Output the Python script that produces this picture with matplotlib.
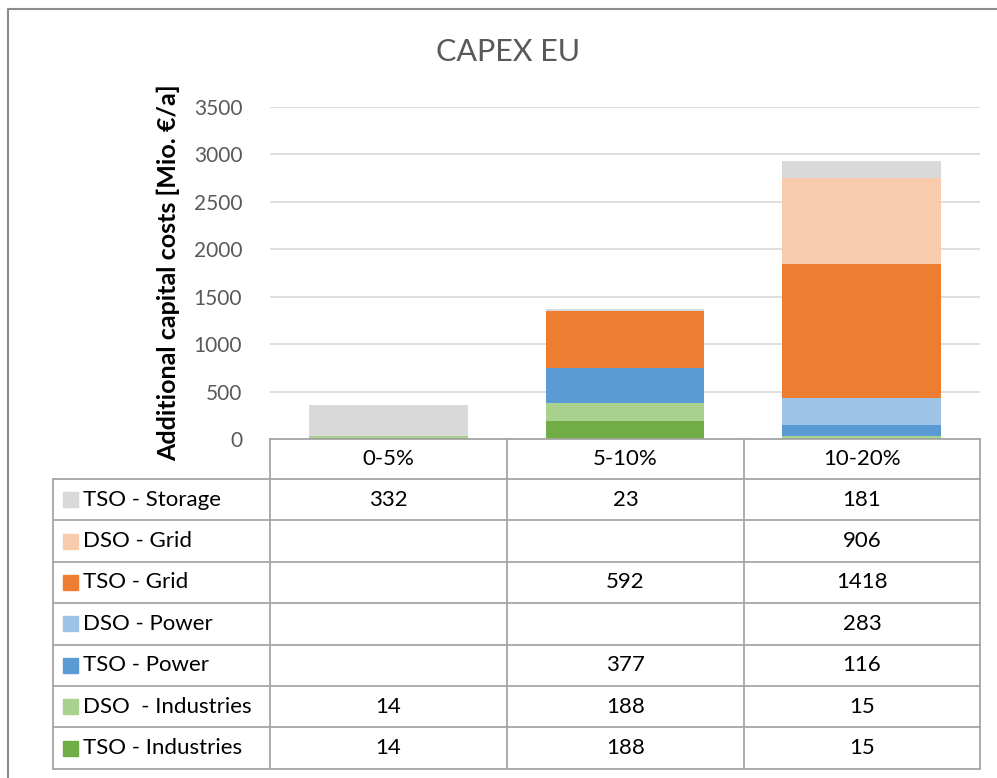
import numpy as np
import matplotlib
matplotlib.use('Agg')
import matplotlib.pyplot as plt
from matplotlib.lines import Line2D
from matplotlib.patches import Rectangle

plt.rcParams['font.family'] = ['Lato', 'DejaVu Sans']

# data
categories = ['0-5%', '5-10%', '10-20%']
series = ['TSO - Industries', 'DSO  - Industries', 'TSO - Power', 'DSO - Power',
          'TSO - Grid', 'DSO - Grid', 'TSO - Storage']
tso_industries = [14, 188, 15]
dso_industries = [14, 188, 15]
tso_power = [None, 377, 116]
dso_power = [None, None, 283]
tso_grid = [None, 592, 1418]
dso_grid = [None, None, 906]
tso_storage = [332, 23, 181]
values = [tso_industries, dso_industries, tso_power, dso_power,
          tso_grid, dso_grid, tso_storage]
colors = ['#70AD47', '#A9D18E', '#5B9BD5', '#9DC3E6',
          '#ED7D31', '#F8CBAD', '#D9D9D9']
yticks = [0, 500, 1000, 1500, 2000, 2500, 3000, 3500]

W, H = 997, 778
fig = plt.figure(figsize=(W / 100, H / 100), dpi=100)

def fx(x):
    return x / W

def fy(y):
    return 1 - y / H

# plot area (pixel layout)
x0, x1 = 270, 980
ytop, ybot = 107, 439
ax = fig.add_axes([fx(x0), fy(ybot), fx(x1) - fx(x0), fy(ytop) - fy(ybot)])

xpos = np.arange(len(categories))
bottom = np.zeros(len(categories))
for vals, c in zip(values, colors):
    v = np.array([np.nan if a is None else a for a in vals], dtype=float)
    ax.bar(xpos, np.nan_to_num(v), width=0.67, bottom=bottom, color=c, zorder=3)
    bottom += np.nan_to_num(v)

ax.set_xlim(-0.5, len(categories) - 0.5)
ax.set_ylim(0, 3500)
ax.set_yticks(yticks)
ax.set_xticks([])
ax.tick_params(axis='y', length=0, labelsize=15, labelcolor='#595959', pad=20)
ax.grid(axis='y', color='#D9D9D9', linewidth=1.2, zorder=0)
for s in ax.spines.values():
    s.set_visible(False)
ax.set_ylabel('Additional capital costs [Mio. €/a]', fontsize=18,
              fontweight='bold', labelpad=10)

fig.text(fx(508), fy(52), 'CAPEX EU', fontsize=22,
         color='#595959', ha='center', va='center')

# data table
tcol = [53, 270, 507, 744, 980]
trow_top = 439
hdr_h = 40
row_h = 41.4
n = len(series)
lc = '#A6A6A6'
fs = 16

def hline(y, xa, xb):
    fig.add_artist(Line2D([fx(xa), fx(xb)], [fy(y), fy(y)], color=lc, lw=1.3))

def vline(x, ya, yb):
    fig.add_artist(Line2D([fx(x), fx(x)], [fy(ya), fy(yb)], color=lc, lw=1.3))

hline(trow_top, tcol[1], tcol[-1])
y_first = trow_top + hdr_h
y_last = y_first + n * row_h
for i in range(n + 1):
    hline(y_first + i * row_h, tcol[0], tcol[-1])
vline(tcol[0], y_first, y_last)
for x in tcol[1:]:
    vline(x, trow_top, y_last)

for j, cat in enumerate(categories):
    cx = 0.5 * (tcol[j + 1] + tcol[j + 2])
    fig.text(fx(cx), fy(trow_top + hdr_h / 2), cat, fontsize=fs,
             ha='center', va='center')

for i in range(n):
    k = n - 1 - i
    yc = y_first + (i + 0.5) * row_h
    fig.add_artist(Rectangle((fx(63), fy(yc + 7.5)), fx(15), 15 / H,
                             color=colors[k], transform=fig.transFigure))
    fig.text(fx(83), fy(yc), series[k], fontsize=fs, ha='left', va='center')
    for j in range(len(categories)):
        v = values[k][j]
        if v is None:
            continue
        cx = 0.5 * (tcol[j + 1] + tcol[j + 2])
        fig.text(fx(cx), fy(yc), str(v), fontsize=fs, ha='center', va='center')

# outer chart border
fig.add_artist(Line2D([fx(8), fx(8), fx(W + 5)], [fy(H + 5), fy(9), fy(9)],
                      color='#8C8C8C', lw=1.5))

fig.savefig('out.png', dpi=100)
